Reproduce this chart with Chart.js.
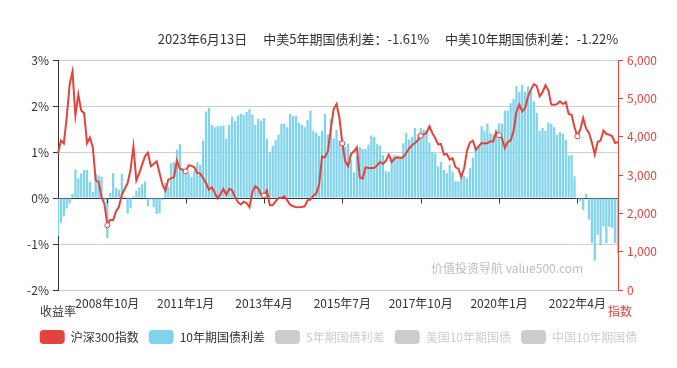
<!DOCTYPE html>
<html>
<head>
<meta charset="utf-8">
<script src="https://cdn.jsdelivr.net/npm/chart.js@4.4.0/dist/chart.umd.min.js"></script>
<style>
  html, body { margin: 0; padding: 0; background: #fff; }
</style>
</head>
<body>
<canvas id="myChart" width="677" height="368"></canvas>
<script>
//DATI
const titolo = '2023年6月13日　 中美5年期国债利差：-1.61%　 中美10年期国债利差：-1.22%';
const nomiSerie = ['沪深300指数', '10年期国债利差', '5年期国债利差', '美国10年期国债', '中国10年期国债'];
const nomeAsseSx = '收益率';
const nomeAsseDx = '指数';
const filigrana = '价值投资导航 value500.com';

// mesi da 2007年5月 a 2023年6月
const mesi = [];
for (let k = 0; k < 194; k++) {
  const t = 2007 * 12 + 4 + k;
  mesi.push(Math.floor(t / 12) + '年' + (t % 12 + 1) + '月');
}

// 沪深300指数
const hs300 = [
  3560, 3900, 3820, 4500, 5350, 5700, 4550, 5100, 4680, 4620,
  3830, 3980, 3720, 2860, 2820, 2430, 2250, 1690, 1830, 1820,
  2050, 2170, 2480, 2640, 2790, 3140, 3750, 2860, 3050, 3270,
  3490, 3580, 3230, 3287, 3357, 3052, 2748, 2591, 2878, 2913,
  2948, 3374, 3165, 3139, 3096, 3252, 3243, 3200, 3052, 3043,
  2920, 2790, 2617, 2678, 2540, 2383, 2504, 2634, 2487, 2640,
  2600, 2430, 2290, 2230, 2305, 2270, 2160, 2560, 2704, 2650,
  2480, 2465, 2600, 2210, 2215, 2313, 2400, 2400, 2444, 2339,
  2226, 2183, 2165, 2160, 2165, 2183, 2339, 2357, 2461, 2513,
  2748, 3480, 3460, 3620, 4180, 4720, 4850, 4480, 3825, 3356,
  3226, 3548, 3617, 3722, 2939, 2904, 3200, 3183, 3183, 3180,
  3252, 3339, 3287, 3374, 3531, 3339, 3426, 3461, 3444, 3461,
  3574, 3687, 3774, 3835, 3900, 4026, 4052, 4096, 4270, 4096,
  3965, 3800, 3809, 3531, 3548, 3400, 3440, 3200, 3165, 2950,
  3183, 3650, 3850, 3896, 3661, 3748, 3835, 3820, 3835, 3880,
  3870, 4122, 4040, 3960, 3705, 3861, 3900, 4139, 4650, 4835,
  4661, 4750, 5050, 5227, 5370, 5320, 5053, 5160, 5340, 5210,
  4835, 4830, 4852, 4922, 4852, 4904, 4591, 4574, 4250, 4009,
  4183, 4487, 4209, 4100, 3850, 3531, 3861, 3896, 4157, 4070,
  4052, 4009, 3835, 3861
];

// 10年期国债利差 (%)
const spread10 = [
  -0.83, -0.54, -0.40, -0.23, -0.12, 0.09, 0.62, 0.43, 0.54, 0.61,
  0.61, 0.35, 0.13, 0.52, 0.49, 0.46, -0.05, -0.87, 0.11, 0.54,
  0.22, 0.18, 0.52, 0.03, -0.34, -0.22, 0.04, 0.16, 0.23, 0.30,
  0.36, -0.18, -0.02, -0.20, -0.35, -0.33, -0.05, 0.33, 0.24, 0.76,
  0.78, 1.05, 1.17, 0.62, 0.58, 0.54, 0.46, 0.60, 0.78, 0.72,
  1.25, 1.88, 1.96, 1.59, 1.54, 1.56, 1.57, 1.57, 1.29, 1.59,
  1.77, 1.67, 1.79, 1.83, 1.81, 1.87, 1.93, 1.81, 1.59, 1.72,
  1.68, 1.74, 1.29, 1.00, 1.13, 1.26, 1.38, 1.61, 1.61, 1.54,
  1.83, 1.78, 1.78, 1.63, 1.59, 1.54, 1.70, 1.90, 1.46, 1.42,
  1.35, 1.46, 1.83, 1.38, 1.72, 1.30, 1.48, 1.25, 1.22, 1.12,
  1.18, 0.83, 0.56, 0.91, 1.11, 1.07, 1.07, 1.16, 1.36, 1.33,
  1.17, 1.14, 0.93, 0.59, 0.57, 0.90, 0.94, 0.92, 0.91, 1.19,
  1.41, 1.27, 1.33, 1.52, 1.38, 1.52, 1.48, 1.48, 1.20, 1.00,
  0.97, 0.68, 0.78, 0.61, 0.54, 0.72, 0.57, 0.36, 0.36, 0.51,
  0.48, 0.43, 0.65, 0.88, 1.09, 1.16, 1.56, 1.46, 1.62, 1.41,
  1.38, 1.49, 1.62, 1.62, 1.90, 1.90, 2.06, 2.15, 2.43, 2.31,
  2.46, 2.31, 2.43, 2.31, 2.10, 1.85, 1.46, 1.52, 1.46, 1.64,
  1.61, 1.54, 1.37, 1.43, 1.40, 1.27, 0.92, 0.94, 0.47, -0.02,
  -0.07, -0.26, 0.09, -0.47, -0.98, -1.36, -0.80, -1.03, -0.62, -0.98,
  -0.63, -0.65, -0.98, -1.20
];

const rosso = '#e2433b';
const azzurro = '#80d3ec';
const grigio = '#cccccc';
const coloriLegenda = [rosso, azzurro, grigio, grigio, grigio];

// etichette asse x ogni 27 mesi, a partire da 2008年10月
function mostra(i) {
  return i >= 17 && (i - 17) % 27 === 0;
}

Chart.defaults.font.family = '"Noto Sans CJK SC", "Noto Sans", sans-serif';
Chart.defaults.font.size = 12;
Chart.defaults.color = '#333';

//TESTI E TACCHE SULLO ZERO
const extra = {
  id: 'extra',
  afterDatasetsDraw(chart) {
    const ctx = chart.ctx;
    const x = chart.scales.x;
    const y0 = Math.round(chart.scales.y.getPixelForValue(0)) + 0.5;
    ctx.save();
    ctx.strokeStyle = '#333';
    ctx.lineWidth = 1;
    for (let i = 0; i < mesi.length; i++) {
      if (!mostra(i)) continue;
      const px = Math.round(x.getPixelForValue(i)) + 0.5;
      ctx.beginPath();
      ctx.moveTo(px, y0);
      ctx.lineTo(px, y0 + 5);
      ctx.stroke();
    }
    ctx.restore();
  },
  afterDraw(chart) {
    const ctx = chart.ctx;
    const area = chart.chartArea;
    ctx.save();
    ctx.textBaseline = 'middle';
    ctx.font = '13px "Noto Sans CJK SC"';
    ctx.fillStyle = '#333';
    ctx.textAlign = 'center';
    ctx.fillText(titolo, 388, 39);

    ctx.font = '12px "Noto Sans CJK SC"';
    ctx.fillText(nomeAsseSx, area.left, 311);
    ctx.fillStyle = rosso;
    ctx.fillText(nomeAsseDx, area.right + 2, 311);

    ctx.font = '12px "Noto Sans CJK SC"';
    ctx.fillStyle = '#bdbdbd';
    ctx.textAlign = 'left';
    ctx.fillText(filigrana, 431, 268);
    ctx.restore();
  }
};

//CREAZIONE GRAFICO
const chart = document.getElementById('myChart');

new Chart(chart, {
  data: {
    labels: mesi,
    datasets: [
      {
        type: 'line',
        label: nomiSerie[0],
        data: hs300,
        yAxisID: 'y1',
        borderColor: rosso,
        borderWidth: 2,
        tension: 0,
        pointRadius: ctx => mostra(ctx.dataIndex) ? 2.5 : 0,
        pointBackgroundColor: '#fff',
        pointBorderColor: rosso,
        pointBorderWidth: 1,
        order: 0
      },
      {
        type: 'bar',
        label: nomiSerie[1],
        data: spread10,
        yAxisID: 'y',
        backgroundColor: azzurro,
        barPercentage: 0.78,
        categoryPercentage: 1,
        order: 1
      },
      { type: 'line', label: nomiSerie[2], data: [], yAxisID: 'y', hidden: true },
      { type: 'line', label: nomiSerie[3], data: [], yAxisID: 'y', hidden: true },
      { type: 'line', label: nomiSerie[4], data: [], yAxisID: 'y', hidden: true }
    ]
  },
  options: {
    responsive: false,
    animation: false,
    events: [],
    layout: { padding: { top: 60, left: 0, right: 0, bottom: 14 } },
    plugins: {
      tooltip: { enabled: false },
      legend: {
        position: 'bottom',
        labels: {
          boxWidth: 25,
          boxHeight: 14,
          padding: 10,
          useBorderRadius: true,
          borderRadius: 4,
          font: { size: 12 },
          generateLabels: function (c) {
            return c.data.datasets.map(function (ds, i) {
              const spento = ds.hidden === true;
              return {
                text: ds.label,
                fillStyle: coloriLegenda[i],
                strokeStyle: coloriLegenda[i],
                lineWidth: 0,
                hidden: false,
                fontColor: spento ? grigio : '#333',
                borderRadius: 4,
                datasetIndex: i
              };
            });
          }
        }
      }
    },
    scales: {
      x: {
        type: 'category',
        offset: false,
        grid: { display: false, drawTicks: false },
        border: { display: false },
        ticks: {
          autoSkip: false,
          maxRotation: 0,
          minRotation: 0,
          padding: 6,
          color: '#333',
          callback: function (val, i) {
            return mostra(i) ? this.getLabelForValue(val) : '';
          }
        },
        afterFit: s => { s.height = 30; }
      },
      y: {
        position: 'left',
        min: -2,
        max: 3,
        ticks: {
          stepSize: 1,
          padding: 4,
          color: '#333',
          callback: v => v + '%'
        },
        grid: {
          color: ctx => (ctx.tick && ctx.tick.value === 0) ? '#333' : '#cfcfcf',
          tickColor: '#333',
          tickLength: 5
        },
        border: { display: true, color: '#333', width: 1 },
        afterFit: s => { s.width = 58; }
      },
      y1: {
        position: 'right',
        min: 0,
        max: 6000,
        ticks: {
          stepSize: 1000,
          padding: 4,
          color: rosso,
          callback: v => v.toLocaleString('en-US')
        },
        grid: {
          drawOnChartArea: false,
          color: rosso,
          tickColor: rosso,
          tickLength: 5
        },
        border: { display: true, color: rosso, width: 1 },
        afterFit: s => { s.width = 59; }
      }
    }
  },
  plugins: [extra]
});
</script>
</body>
</html>
